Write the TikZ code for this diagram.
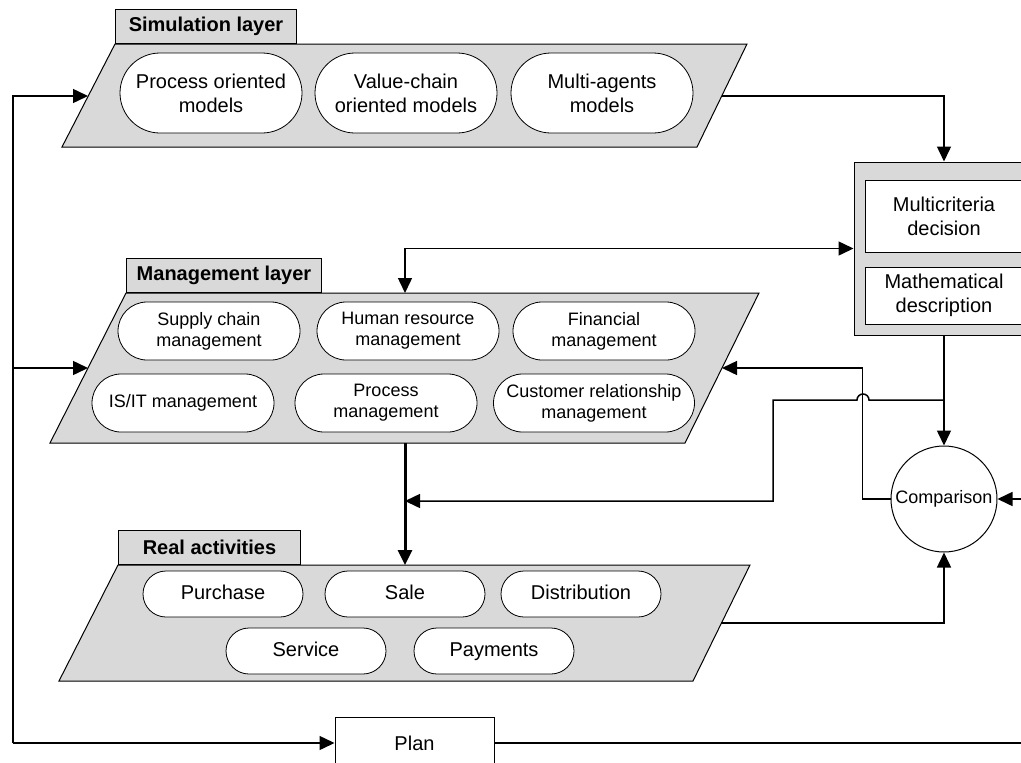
\documentclass[tikz,border=0pt]{standalone}
\usepackage{fontspec}
\setmainfont{Liberation Sans}
\usetikzlibrary{arrows.meta,shapes.misc}
\definecolor{laygray}{RGB}{217,217,217}
\tikzset{
  layer/.style={draw, fill=laygray, line width=1pt},
  tabbox/.style={draw, fill=laygray, line width=1pt, anchor=south west, inner sep=0pt, minimum height=34pt, font=\bfseries\fontsize{20}{24}\selectfont},
  pill/.style={draw, fill=white, rounded rectangle, inner sep=0pt, line width=0.8pt, align=center},
  simpill/.style={pill, minimum width=182pt, minimum height=80pt, font=\fontsize{20}{24}\selectfont},
  mgmtpill/.style={pill, minimum width=182pt, minimum height=58pt, font=\fontsize{18}{21}\selectfont},
  actpill/.style={pill, minimum width=160pt, minimum height=46pt, text height=14.5pt, text depth=4pt, font=\fontsize{20}{24}\selectfont},
  whitebox/.style={draw, fill=white, line width=1pt, align=center, font=\fontsize{20}{24}\selectfont},
  conn/.style={line width=1.5pt},
  arr/.style={conn, -{Triangle[length=15pt,width=14pt]}},
}
\begin{document}
\begin{tikzpicture}[x=1pt, y=-1pt]
    \fill[white] (0,0) rectangle (1021,763);
    \useasboundingbox (0,0) rectangle (1021,763);
    \clip (0,0) rectangle (1021,763);

    \draw[layer] (62,147) -- (697,147) -- (747,44) -- (115,44) -- cycle;
    \node[tabbox, minimum width=181pt] (simtab) at (115,44) {Simulation layer};
    \foreach \x/\txt [count=\i] in {211/{Process oriented\\models}, 406/{Value-chain\\oriented models}, 602/{Multi-agents\\models}}
        \node[simpill] (sim\i) at (\x,93) {\txt};

    \draw[layer] (50,443) -- (685,443) -- (759,293) -- (126,293) -- cycle;
    \node[tabbox, minimum width=195pt] (mgmttab) at (126,293) {Management layer};
    \foreach \x/\txt [count=\i] in {209/{Supply chain\\management}, 408/{Human resource\\management}, 604/{Financial\\management}}
        \node[mgmtpill] (mgmt\i) at (\x,331) {\txt};
    \node[mgmtpill] (mgmt4) at (183,403) {IS/IT management};
    \node[mgmtpill] (mgmt5) at (386,403) {Process\\management};
    \node[mgmtpill, minimum width=201pt] (mgmt6) at (594,403) {Customer relationship\\management};

    \draw[layer] (59,681) -- (693,681) -- (750,565) -- (118,565) -- cycle;
    \node[tabbox, minimum width=182pt] (acttab) at (118,565) {Real activities};
    \foreach \x/\txt [count=\i] in {223/Purchase, 405/Sale, 581/Distribution}
        \node[actpill] (act\i) at (\x,594) {\txt};
    \node[actpill] (act4) at (306,651) {Service};
    \node[actpill] (act5) at (494,651) {Payments};

    \node[layer, minimum width=180pt, minimum height=173pt] (dec) at (944,248.5) {};
    \node[whitebox, minimum width=158pt, minimum height=72pt] (multi) at (944,216) {Multicriteria\\decision};
    \node[whitebox, minimum width=158pt, minimum height=57pt] (math) at (944,295.5) {Mathematical\\description};

    \node[whitebox, circle, minimum size=106pt, inner sep=0pt, font=\fontsize{18}{21}\selectfont] (comp) at (944,499) {Comparison};
    \node[whitebox, minimum width=159pt, minimum height=52pt] (plan) at (414.5,743) {Plan};

    \coordinate (simin) at (88,96);
    \coordinate (simout) at (722,96);
    \coordinate (mgmtin) at (88,368);
    \coordinate (mgmtout) at (722,368);
    \coordinate (mgmttop) at (405,293);
    \coordinate (mgmtbot) at (405,443);
    \coordinate (acttop) at (405,565);
    \coordinate (actout) at (721,623);
    \coordinate (jn) at (405,501);
    \coordinate (br) at (944,400);
    \coordinate (lft) at (13,743);
    \coordinate (rgtc) at (1030,499);
    \coordinate (rgtp) at (1030,743);

    \draw[arr] (lft) -- (plan.west);
    \draw[arr] (lft) |- (simin);
    \draw[arr] (lft |- mgmtin) -- (mgmtin);
    \draw[arr] (simout) -| (dec.north);
    \draw[conn, {Triangle[length=15pt,width=14pt]}-{Triangle[length=15pt,width=14pt]}] (mgmttop) |- (dec.west);
    \draw[arr] (dec.south) -- (comp.north);
    \draw[arr] (br) -- (869,400) arc[start angle=0, end angle=180, radius=6pt] -- (773,400) |- (jn);
    \draw[arr] (comp.west) -- ++(-28,0) |- (mgmtout);
    \draw[arr] (actout) -| (comp.south);
    \draw[arr] (rgtc) -- (comp.east);
    \draw[conn] (plan.east) -- (rgtp);
    \draw[arr, line width=3pt] (mgmtbot) -- (acttop);
\end{tikzpicture}
\end{document}
